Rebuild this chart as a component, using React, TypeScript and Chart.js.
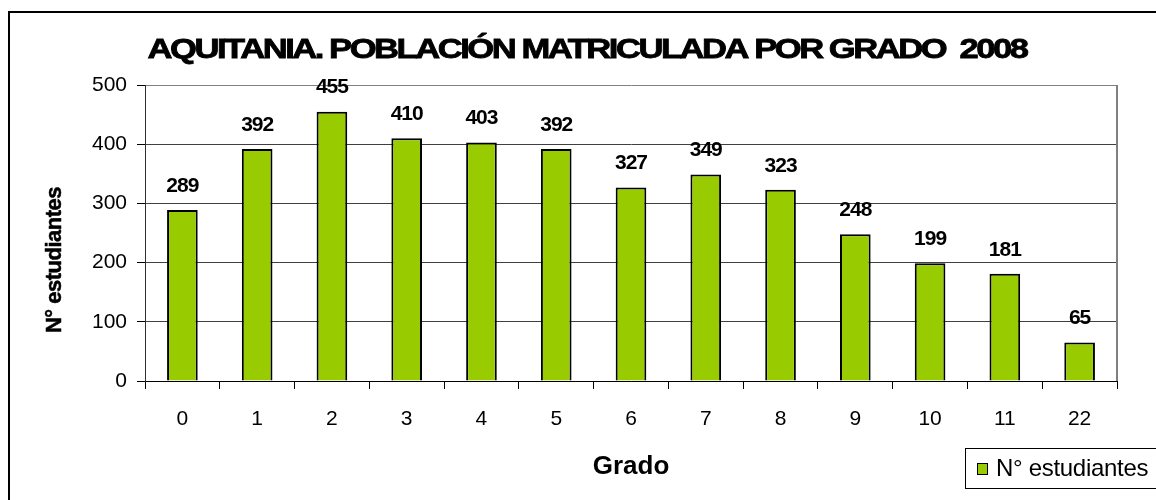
import React, { useEffect, useRef } from "react";
import { Chart, registerables } from "chart.js";

Chart.register(...registerables);

const categories = ["0", "1", "2", "3", "4", "5", "6", "7", "8", "9", "10", "11", "22"];
const students = [289, 392, 455, 410, 403, 392, 327, 349, 323, 248, 199, 181, 65];
const yTickValues = [0, 100, 200, 300, 400, 500];
const seriesLabel = "N° estudiantes";
const chartTitle = "AQUITANIA. POBLACIÓN MATRICULADA POR GRADO  2008";
const xAxisTitle = "Grado";
const yAxisTitle = "N° estudiantes";

const FONT = "'Liberation Sans', Arial, sans-serif";
const BAR_COLOR = "#99CC00";

const framePlugin = {
  id: "frame",
  beforeDraw(chart: any) {
    const ctx = chart.ctx;
    ctx.save();
    ctx.fillStyle = "#ffffff";
    ctx.fillRect(0, 0, chart.width, chart.height);
    ctx.fillStyle = "#000000";
    ctx.fillRect(8, 11, 2, chart.height - 11);
    ctx.fillRect(8, 11, chart.width - 8, 2);
    ctx.restore();
  },
};

const titlePlugin = {
  id: "customTitle",
  afterDraw(chart: any) {
    const ctx = chart.ctx;
    ctx.save();
    ctx.font = `bold 28px ${FONT}`;
    (ctx as any).letterSpacing = "-2px";
    ctx.fillStyle = "#000";
    ctx.strokeStyle = "#000";
    ctx.lineWidth = 0.8;
    ctx.textBaseline = "alphabetic";
    ctx.textAlign = "left";
    const w = ctx.measureText(chartTitle).width;
    const target = 879;
    const sx = target / w;
    ctx.translate(587 - target / 2, 58);
    ctx.scale(sx, 1);
    ctx.fillText(chartTitle, 0, 0);
    ctx.strokeText(chartTitle, 0, 0);
    ctx.restore();
  },
};

const yTitlePlugin = {
  id: "yTitle",
  afterDraw(chart: any) {
    const ctx = chart.ctx;
    ctx.save();
    ctx.font = `bold 22px ${FONT}`;
    (ctx as any).letterSpacing = "-0.5px";
    ctx.fillStyle = "#000";
    ctx.strokeStyle = "#000";
    ctx.lineWidth = 0.5;
    ctx.textAlign = "center";
    ctx.textBaseline = "middle";
    ctx.translate(55, 260);
    ctx.rotate(-Math.PI / 2);
    ctx.fillText(yAxisTitle, 0, 0);
    ctx.strokeText(yAxisTitle, 0, 0);
    ctx.restore();
  },
};

const plotBorderPlugin = {
  id: "plotBorder",
  afterDraw(chart: any) {
    const { ctx, chartArea } = chart;
    ctx.save();
    ctx.strokeStyle = "#808080";
    ctx.lineWidth = 2;
    ctx.beginPath();
    ctx.moveTo(chartArea.right, chartArea.top);
    ctx.lineTo(chartArea.right, chartArea.bottom);
    ctx.stroke();
    ctx.restore();
  },
};

const valueLabelPlugin = {
  id: "valueLabels",
  afterDatasetsDraw(chart: any) {
    const ctx = chart.ctx;
    const meta = chart.getDatasetMeta(0);
    const values = chart.data.datasets[0].data;
    ctx.save();
    ctx.font = `bold 21px ${FONT}`;
    (ctx as any).letterSpacing = "-1px";
    ctx.fillStyle = "#000";
    ctx.textAlign = "center";
    ctx.textBaseline = "middle";
    meta.data.forEach((bar: any, i: number) => {
      ctx.fillText(String(values[i]), bar.x, bar.y - 24);
    });
    ctx.restore();
  },
};

const legendPlugin = {
  id: "customLegend",
  afterDraw(chart: any) {
    const ctx = chart.ctx;
    const ds = chart.data.datasets[0];
    ctx.save();
    ctx.fillStyle = "#fff";
    ctx.fillRect(965, 448, 200, 40);
    ctx.strokeStyle = "#000";
    ctx.lineWidth = 1;
    ctx.strokeRect(965.5, 448.5, 200, 40);
    ctx.fillStyle = ds.backgroundColor;
    ctx.fillRect(977, 463, 11, 12);
    ctx.strokeRect(977.5, 463.5, 10, 11);
    ctx.fillStyle = "#000";
    ctx.font = `24px ${FONT}`;
    (ctx as any).letterSpacing = "-0.3px";
    ctx.textAlign = "left";
    ctx.textBaseline = "alphabetic";
    ctx.fillText(ds.label, 996, 476);
    ctx.restore();
  },
};

export default function App() {
  const ref = useRef<HTMLCanvasElement>(null);

  useEffect(() => {
    const canvas = ref.current;
    if (!canvas) return;
    const chart = new Chart(canvas, {
      type: "bar",
      data: {
        labels: categories,
        datasets: [
          {
            label: seriesLabel,
            data: students,
            backgroundColor: BAR_COLOR,
            borderColor: "#000000",
            borderWidth: 2,
            barPercentage: 0.41,
            categoryPercentage: 1,
          },
        ],
      },
      options: {
        responsive: false,
        animation: false,
        layout: { padding: { top: 85, right: 39, left: 0, bottom: 0 } },
        plugins: {
          legend: { display: false },
          title: { display: false },
          tooltip: { enabled: false },
        },
        scales: {
          x: {
            grid: {
              display: true,
              drawOnChartArea: false,
              drawTicks: true,
              tickLength: 8,
              offset: true,
              color: "#000",
              tickColor: "#000",
            },
            border: { display: true, color: "#000", width: 1 },
            ticks: {
              color: "#000",
              font: { family: FONT, size: 21 },
              padding: 18,
              maxRotation: 0,
              autoSkip: false,
            },
            title: {
              display: true,
              text: xAxisTitle,
              color: "#000",
              font: { family: FONT, size: 26, weight: "bold" },
              padding: { top: 0, bottom: 18 },
            },
            afterFit: (s: any) => {
              s.height = 500 - 381;
            },
          },
          y: {
            min: 0,
            max: 500,
            afterBuildTicks: (s: any) => {
              s.ticks = yTickValues.map((v) => ({ value: v }));
            },
            grid: {
              color: (c: any) => (c.tick && c.tick.value === 500 ? "#808080" : "#404040"),
              tickColor: "#000",
              tickLength: 8,
              drawTicks: true,
            },
            border: { display: true, color: "#303030", width: 1 },
            ticks: {
              color: "#000",
              font: { family: FONT, size: 21 },
              padding: 10,
            },
            afterFit: (s: any) => {
              s.width = 145;
            },
          },
        },
      },
      plugins: [framePlugin, plotBorderPlugin, valueLabelPlugin, titlePlugin, yTitlePlugin, legendPlugin],
    });
    return () => chart.destroy();
  }, []);

  return (
    <div style={{ position: "absolute", left: 0, top: 0, width: 1156, height: 500, background: "#fff" }}>
      <canvas ref={ref} width={1156} height={500} style={{ display: "block", width: 1156, height: 500 }} />
    </div>
  );
}
